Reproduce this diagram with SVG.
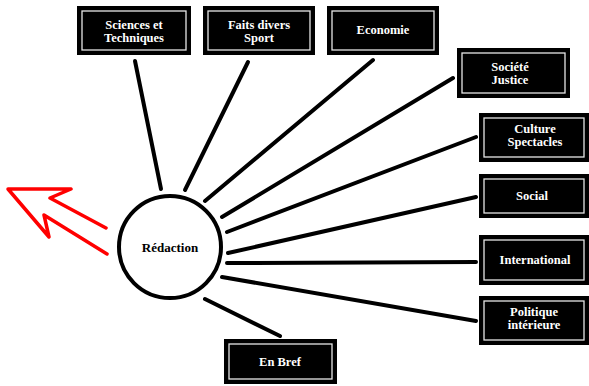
<svg xmlns="http://www.w3.org/2000/svg" width="589" height="386" viewBox="0 0 589 386">
<style>
.box{fill:#000}
.inner{fill:none;stroke:#e6e6e6;stroke-width:1.3}
.lbl{fill:#fff;font-weight:bold;font-size:12.5px;text-anchor:middle}
.conn line{stroke:#000;stroke-width:4;stroke-linecap:round}
</style>
<rect width="589" height="386" fill="#fff"/>
<g id="connectors" class="conn">
<line x1="135" y1="61" x2="161" y2="189"/>
<line x1="248" y1="62" x2="185" y2="190"/>
<line x1="373" y1="60" x2="205" y2="201"/>
<line x1="453" y1="78" x2="222" y2="217"/>
<line x1="476" y1="137" x2="227" y2="232"/>
<line x1="476" y1="197" x2="228" y2="253"/>
<line x1="476" y1="262" x2="227" y2="263"/>
<line x1="476" y1="321" x2="222" y2="277"/>
<line x1="205" y1="299" x2="280" y2="336"/>
</g>
<g id="arrow">
<polyline points="106,228 50,198 71,189 8,189 49,237 44,215 107,254" fill="none" stroke="#ff0000" stroke-width="3.5" stroke-linejoin="round" stroke-linecap="round"/>
</g>
<g font-family="'Liberation Serif', 'Times New Roman', Times, serif">
<g id="redaction">
<circle cx="170" cy="247" r="51" fill="#fff" stroke="#000" stroke-width="4"/>
<text x="170" y="252" font-weight="bold" font-size="13" text-anchor="middle" fill="#000">Rédaction</text>
</g>
<g id="sciences">
<rect class="box" x="77" y="6" width="114" height="49"/>
<rect class="inner" x="82" y="11" width="104" height="39"/>
<text class="lbl" x="134" y="29">Sciences et</text>
<text class="lbl" x="134" y="42">Techniques</text>
</g>
<g id="faits">
<rect class="box" x="203" y="6" width="112" height="49"/>
<rect class="inner" x="208" y="11" width="102" height="39"/>
<text class="lbl" x="259" y="29">Faits divers</text>
<text class="lbl" x="259" y="42">Sport</text>
</g>
<g id="economie">
<rect class="box" x="327" y="6" width="112" height="49"/>
<rect class="inner" x="332" y="11" width="102" height="39"/>
<text class="lbl" x="383" y="34">Economie</text>
</g>
<g id="societe">
<rect class="box" x="457" y="48" width="113" height="50"/>
<rect class="inner" x="462" y="53" width="103" height="40"/>
<text class="lbl" x="510" y="71">Société</text>
<text class="lbl" x="510" y="84">Justice</text>
</g>
<g id="culture">
<rect class="box" x="479" y="113" width="110" height="49"/>
<rect class="inner" x="484" y="118" width="100" height="39"/>
<text class="lbl" x="535" y="133">Culture</text>
<text class="lbl" x="535" y="146">Spectacles</text>
</g>
<g id="social">
<rect class="box" x="479" y="174" width="110" height="44"/>
<rect class="inner" x="484" y="179" width="100" height="34"/>
<text class="lbl" x="532" y="200">Social</text>
</g>
<g id="international">
<rect class="box" x="479" y="235" width="110" height="50"/>
<rect class="inner" x="484" y="240" width="100" height="40"/>
<text class="lbl" x="535" y="264">International</text>
</g>
<g id="politique">
<rect class="box" x="479" y="296" width="110" height="49"/>
<rect class="inner" x="484" y="301" width="100" height="39"/>
<text class="lbl" x="534" y="316">Politique</text>
<text class="lbl" x="534" y="329">intérieure</text>
</g>
<g id="enbref">
<rect class="box" x="224" y="339" width="113" height="45"/>
<rect class="inner" x="229" y="344" width="103" height="35"/>
<text class="lbl" x="280" y="366">En Bref</text>
</g>
</g>
</svg>
